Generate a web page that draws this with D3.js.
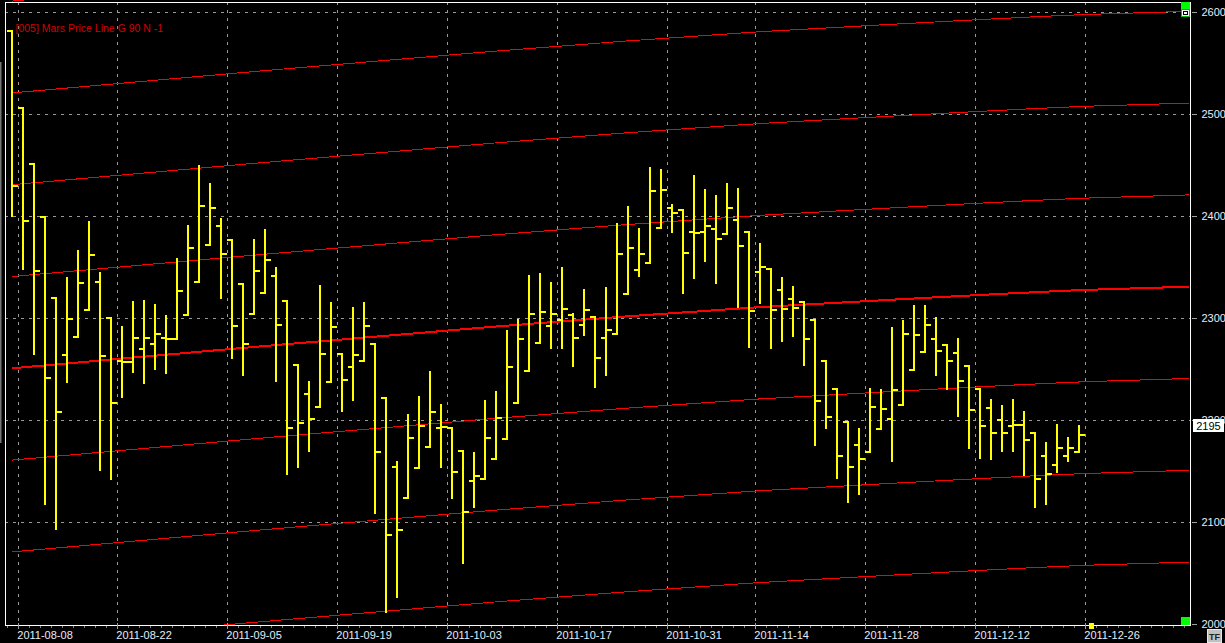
<!DOCTYPE html>
<html>
<head>
<meta charset="utf-8">
<script src="https://cdn.jsdelivr.net/npm/d3@7"></script>
<style>
  html, body { margin: 0; padding: 0; background: #000; overflow: hidden; }
  svg { display: block; }
  text { font-family: "Liberation Sans", Arial, sans-serif; }
</style>
</head>
<body>
<div id="chart"></div>
<script>
// Daily OHLC, one entry per trading bar (bar 1 = 2011-08-08)
const OPEN = [2582, 2506, 2451, 2399, 2320, 2264, 2282, 2308, 2336, 2300,
	2258, 2257, 2270, 2275, 2281, 2280, 2303, 2336, 2372, 2390,
	2377, 2334, 2304, 2325, 2341, 2317, 2254, 2226, 2213, 2238,
	2265, 2252, 2258, 2275, 2222, 2154, 2124, 2153, 2174, 2192,
	2192, 2170, 2140, 2142, 2162, 2182, 2217, 2248, 2276, 2292,
	2298, 2303, 2293, 2301, 2281, 2285, 2324, 2347, 2354, 2389,
	2408, 2406, 2385, 2385, 2388, 2383, 2396, 2385, 2345, 2348,
	2328, 2319, 2316, 2298, 2258, 2231, 2198, 2176, 2169, 2191,
	2201, 2215, 2249, 2267, 2280, 2274, 2266, 2253, 2231, 2212,
	2200, 2194, 2195, 2188, 2165, 2156, 2165, 2169];
const HIGH = [2582, 2506, 2451, 2399, 2320, 2340, 2366, 2394, 2344, 2300,
	2291, 2316, 2317, 2313, 2302, 2358, 2390, 2449, 2432, 2397,
	2377, 2334, 2377, 2387, 2349, 2317, 2254, 2238, 2332, 2315,
	2265, 2310, 2315, 2275, 2222, 2159, 2205, 2223, 2247, 2215,
	2192, 2170, 2168, 2219, 2228, 2288, 2298, 2341, 2343, 2335,
	2349, 2304, 2328, 2301, 2330, 2392, 2409, 2388, 2447, 2445,
	2411, 2406, 2440, 2426, 2420, 2432, 2427, 2385, 2373, 2348,
	2340, 2331, 2316, 2298, 2258, 2231, 2198, 2191, 2231, 2230,
	2290, 2297, 2312, 2312, 2300, 2274, 2280, 2253, 2231, 2220,
	2214, 2220, 2208, 2188, 2178, 2195, 2183, 2194];
const LOW = [2400, 2348, 2265, 2118, 2093, 2238, 2282, 2308, 2151, 2142,
	2223, 2247, 2237, 2250, 2246, 2280, 2303, 2336, 2372, 2320,
	2261, 2244, 2304, 2325, 2239, 2147, 2154, 2170, 2213, 2238,
	2209, 2220, 2258, 2109, 2012, 2027, 2124, 2153, 2174, 2154,
	2124, 2060, 2115, 2142, 2162, 2182, 2217, 2248, 2276, 2271,
	2271, 2253, 2284, 2233, 2244, 2285, 2324, 2341, 2354, 2389,
	2385, 2325, 2340, 2356, 2335, 2383, 2311, 2272, 2315, 2271,
	2278, 2283, 2254, 2176, 2192, 2143, 2120, 2128, 2169, 2191,
	2160, 2215, 2249, 2267, 2244, 2231, 2204, 2173, 2163, 2162,
	2170, 2170, 2146, 2115, 2118, 2149, 2160, 2169];
const CLOSE = [2430, 2395, 2346, 2241, 2208, 2299, 2335, 2362, 2263, 2217,
	2257, 2281, 2281, 2285, 2280, 2327, 2369, 2410, 2408, 2363,
	2292, 2275, 2346, 2357, 2293, 2192, 2197, 2201, 2265, 2291,
	2240, 2264, 2292, 2169, 2088, 2092, 2183, 2194, 2208, 2193,
	2149, 2110, 2145, 2183, 2202, 2252, 2280, 2304, 2306, 2304,
	2309, 2281, 2308, 2261, 2289, 2363, 2369, 2363, 2425, 2426,
	2403, 2364, 2384, 2390, 2378, 2408, 2371, 2307, 2350, 2308,
	2309, 2310, 2280, 2219, 2203, 2165, 2154, 2162, 2213, 2211,
	2230, 2285, 2284, 2293, 2268, 2258, 2239, 2210, 2194, 2188,
	2188, 2195, 2181, 2142, 2147, 2173, 2173, 2186];

// Date labels and the bar index each one starts at
const TICK_LABELS = ["2011-08-08", "2011-08-22", "2011-09-05", "2011-09-19", "2011-10-03",
	"2011-10-17", "2011-10-31", "2011-11-14", "2011-11-28", "2011-12-12", "2011-12-26"];
const TICK_BARS = [1, 10, 20, 30, 40, 50, 60, 68, 78, 88, 98];

const PRICE_TICKS = [2000, 2100, 2200, 2300, 2400, 2500, 2600];

// Mars price line (base level) sampled at bar positions, plus the 90-point harmonics
const MARS_BARS = [0, 21, 44, 56, 68, 83, 98, 107];
const MARS_BASE = [2251, 2271, 2292, 2302, 2311, 2320, 2328, 2331];
const MARS_OFFSETS = [-270, -180, -90, 0, 90, 180, 270, 360];

const TITLE = "[005] Mars Price Line G 90 N -1";
const LAST_PRICE = 2195;

(function () {
	const width = 1225;
	const height = 643;
	const frame = { left: 5, top: 2, right: 1190, bottom: 625 };

	const YELLOW = "#FFFF00";
	const RED = "#FF0000";
	const GRID = "#9a9a9a";
	const LABEL = "#e6eefa";

	const svg = d3.select("#chart")
		.append("svg")
		.attr("width", width)
		.attr("height", height);

	svg.append("rect").attr("width", width).attr("height", height).attr("fill", "#000");

	// bar index -> pixel, price -> pixel
	const x = d3.scaleLinear().domain([0, 107]).range([12.3, 1189.3]);
	const y = d3.scaleLinear().domain([2000, 2600]).range([624.3, 12.3]);
	const px = i => Math.round(x(i));
	const py = v => Math.round(y(v));

	svg.append("defs").append("clipPath").attr("id", "plotClip")
		.append("rect")
		.attr("x", frame.left)
		.attr("y", 0)
		.attr("width", frame.right - frame.left)
		.attr("height", frame.bottom);

	// scrollbar remnant on the far left
	svg.append("rect").attr("x", 0).attr("y", 62).attr("width", 1.5).attr("height", 381).attr("fill", "#777");

	// Dotted grid
	const grid = svg.append("g")
		.attr("stroke", GRID)
		.attr("stroke-width", 1)
		.attr("stroke-dasharray", "3,5")
		.attr("shape-rendering", "crispEdges");

	grid.selectAll("line.h")
		.data(PRICE_TICKS.filter(v => v > 2000))
		.join("line")
		.attr("class", "h")
		.attr("x1", frame.left)
		.attr("x2", frame.right)
		.attr("y1", d => py(d) + 0.5)
		.attr("y2", d => py(d) + 0.5);

	grid.selectAll("line.v")
		.data(TICK_BARS)
		.join("line")
		.attr("class", "v")
		.attr("x1", d => Math.round(x(d - 0.5)) + 0.5)
		.attr("x2", d => Math.round(x(d - 0.5)) + 0.5)
		.attr("y1", frame.top)
		.attr("y2", frame.bottom);

	// Mars lines
	const marsLine = d3.line()
		.x(d => x(d[0]))
		.y(d => y(d[1]))
		.curve(d3.curveMonotoneX);

	svg.append("g")
		.attr("clip-path", "url(#plotClip)")
		.selectAll("path")
		.data(MARS_OFFSETS)
		.join("path")
		.attr("d", off => marsLine(MARS_BARS.map((b, k) => [b, MARS_BASE[k] + off])))
		.attr("fill", "none")
		.attr("stroke", RED)
		.attr("stroke-width", off => (off === 0 ? 2 : 1))
		.attr("shape-rendering", "crispEdges");

	// OHLC bars
	const bars = svg.append("g")
		.attr("stroke", YELLOW)
		.attr("stroke-width", 2)
		.attr("shape-rendering", "crispEdges")
		.selectAll("g")
		.data(OPEN.map((o, i) => ({ i, o, h: HIGH[i], l: LOW[i], c: CLOSE[i] })))
		.join("g");

	bars.append("line")
		.attr("x1", d => px(d.i))
		.attr("x2", d => px(d.i))
		.attr("y1", d => py(d.h) - 1)
		.attr("y2", d => py(d.l) + 1);
	bars.append("line")
		.attr("x1", d => px(d.i) - 5)
		.attr("x2", d => px(d.i))
		.attr("y1", d => py(d.o))
		.attr("y2", d => py(d.o));
	bars.append("line")
		.attr("x1", d => px(d.i))
		.attr("x2", d => px(d.i) + 6)
		.attr("y1", d => py(d.c))
		.attr("y2", d => py(d.c));

	// Title
	svg.append("text")
		.attr("x", 15.5)
		.attr("y", 31.5)
		.style("font-size", "10.5px")
		.style("fill", "#d40000")
		.text(TITLE);

	// Frame
	svg.append("rect")
		.attr("x", frame.left + 0.5)
		.attr("y", frame.top + 0.5)
		.attr("width", frame.right - frame.left)
		.attr("height", frame.bottom - frame.top)
		.attr("fill", "none")
		.attr("stroke", "#fff")
		.attr("stroke-width", 1)
		.attr("shape-rendering", "crispEdges");

	// Bottom axis: small ticks per bar, longer ticks at dates
	const bottom = svg.append("g").attr("shape-rendering", "crispEdges");
	bottom.selectAll("line.small")
		.data(d3.range(0, 108))
		.join("line")
		.attr("class", "small")
		.attr("x1", d => Math.round(x(d - 0.5)) + 0.5)
		.attr("x2", d => Math.round(x(d - 0.5)) + 0.5)
		.attr("y1", frame.bottom + 1)
		.attr("y2", frame.bottom + 3)
		.attr("stroke", "#808080");
	bottom.selectAll("line.big")
		.data(TICK_BARS)
		.join("line")
		.attr("class", "big")
		.attr("x1", d => Math.round(x(d - 0.5)) + 0.5)
		.attr("x2", d => Math.round(x(d - 0.5)) + 0.5)
		.attr("y1", frame.bottom - 2)
		.attr("y2", frame.bottom + 4)
		.attr("stroke", "#a0a0a0");
	bottom.selectAll("text")
		.data(TICK_BARS)
		.join("text")
		.attr("x", d => x(d - 0.5) - 0.5)
		.attr("y", 639)
		.style("font-size", "11px")
		.style("fill", LABEL)
		.text((d, k) => TICK_LABELS[k]);

	// next-bar marker
	svg.append("rect")
		.attr("x", px(98) - 1)
		.attr("y", 623)
		.attr("width", 5)
		.attr("height", 6)
		.attr("fill", YELLOW);

	// Right price axis
	const right = svg.append("g");
	right.selectAll("line")
		.data(PRICE_TICKS)
		.join("line")
		.attr("x1", 1192)
		.attr("x2", 1197)
		.attr("y1", d => py(d) + 0.5)
		.attr("y2", d => py(d) + 0.5)
		.attr("stroke", "#a0a0a0")
		.attr("shape-rendering", "crispEdges");
	right.selectAll("text")
		.data(PRICE_TICKS)
		.join("text")
		.attr("x", 1201.5)
		.attr("y", d => y(d) + 4)
		.style("font-size", "11px")
		.style("fill", LABEL)
		.text(d => d);

	// Last price box
	const lastY = y(LAST_PRICE);
	svg.append("rect")
		.attr("x", 1193)
		.attr("y", Math.round(lastY - 6.5))
		.attr("width", 31)
		.attr("height", 13)
		.attr("fill", "#fff");
	svg.append("text")
		.attr("x", 1208.5)
		.attr("y", lastY + 4.5)
		.attr("text-anchor", "middle")
		.style("font-size", "11px")
		.style("fill", "#000")
		.text(LAST_PRICE);

	// Green corner markers
	svg.append("rect").attr("x", 1181).attr("y", 2).attr("width", 9).attr("height", 8).attr("fill", "#00ff00");
	svg.append("rect").attr("x", 1181.5).attr("y", 9.5).attr("width", 8).attr("height", 7)
		.attr("fill", "#000").attr("stroke", "#00c000").attr("shape-rendering", "crispEdges");
	svg.append("rect").attr("x", 1182.5).attr("y", 10.5).attr("width", 6).attr("height", 5)
		.attr("fill", "none").attr("stroke", "#fff").attr("shape-rendering", "crispEdges");
	svg.append("rect").attr("x", 1184.5).attr("y", 12.5).attr("width", 2).attr("height", 1)
		.attr("fill", "none").attr("stroke", "#fff").attr("shape-rendering", "crispEdges");
	svg.append("rect").attr("x", 1181).attr("y", 617).attr("width", 9).attr("height", 8).attr("fill", "#00ff00");

	// TF button
	svg.append("rect")
		.attr("x", 1207.5)
		.attr("y", 629.5)
		.attr("width", 14)
		.attr("height", 13)
		.attr("fill", "#c0c0c0")
		.attr("stroke", "#e8e8e8")
		.attr("shape-rendering", "crispEdges");
	svg.append("text")
		.attr("x", 1214.5)
		.attr("y", 640)
		.attr("text-anchor", "middle")
		.style("font-size", "9px")
		.style("font-weight", 700)
		.style("fill", "#222")
		.text("TF");
})();
</script>
</body>
</html>
